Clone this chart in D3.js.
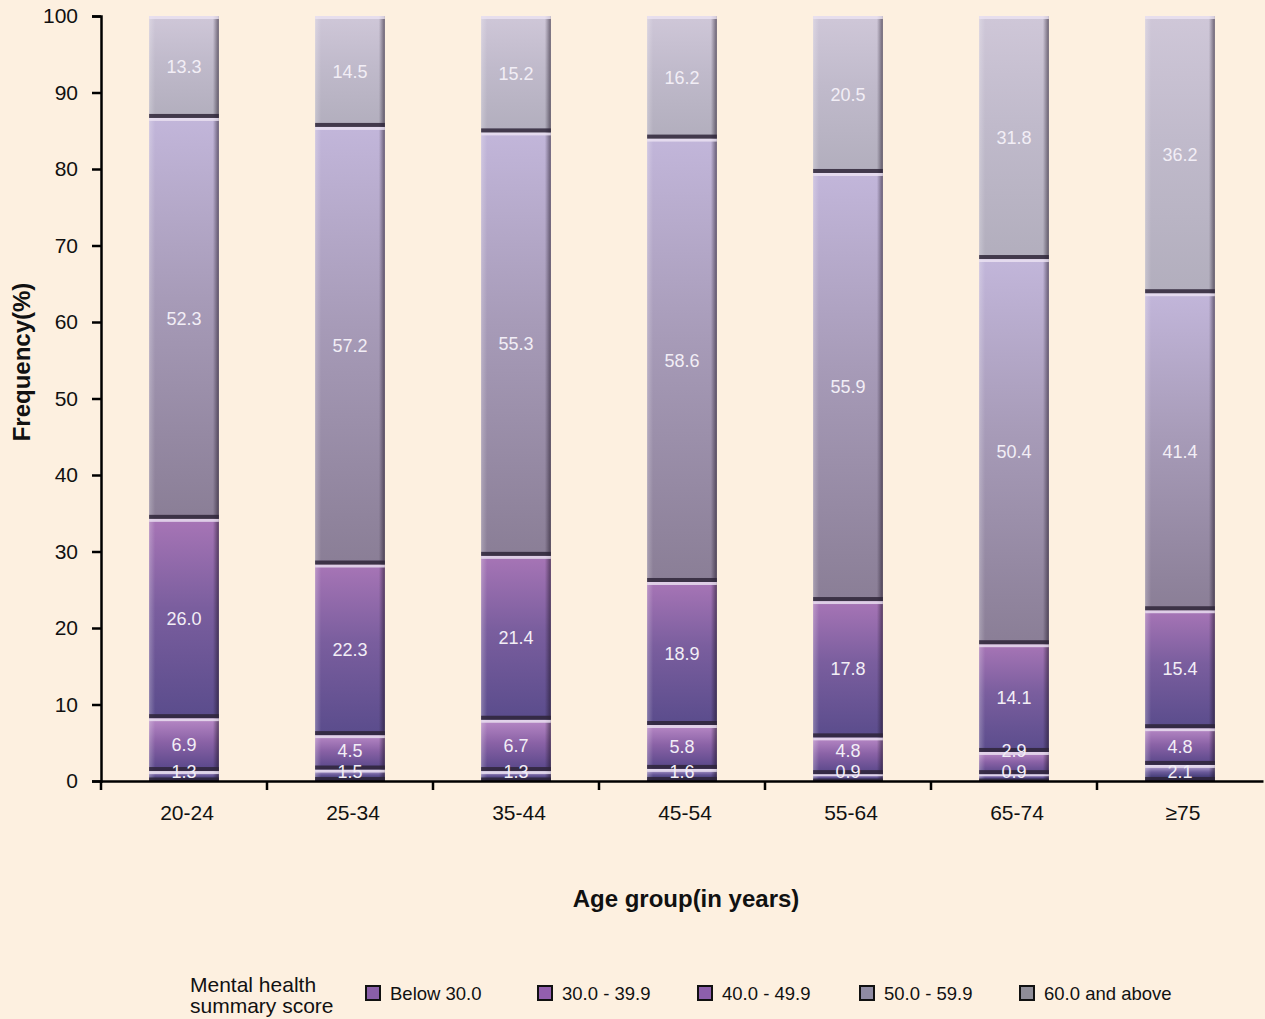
<!DOCTYPE html>
<html><head><meta charset="utf-8">
<script src="https://cdn.jsdelivr.net/npm/d3@7/dist/d3.min.js"></script>
<style>body{margin:0;background:#fdf0e0;}svg{display:block;font-family:"Liberation Sans",Arial,sans-serif;}</style>
</head><body><svg id="c" width="1265" height="1019"></svg>
<script>
const categories = ["20-24","25-34","35-44","45-54","55-64","65-74","≥75"];
const seriesNames = ["Below 30.0","30.0 - 39.9","40.0 - 49.9","50.0 - 59.9","60.0 and above"];
const below30 = [1.3,1.5,1.3,1.6,0.9,0.9,2.1];
const s30to39 = [6.9,4.5,6.7,5.8,4.8,2.9,4.8];
const s40to49 = [26.0,22.3,21.4,18.9,17.8,14.1,15.4];
const s50to59 = [52.3,57.2,55.3,58.6,55.9,50.4,41.4];
const s60plus = [13.3,14.5,15.2,16.2,20.5,31.8,36.2];
const yTicks = [0,10,20,30,40,50,60,70,80,90,100];

const series = [below30,s30to39,s40to49,s50to59,s60plus];
const grads = [
  ["#c9b6e0","#6a5a9a","#26245a"],
  ["#b889c6","#8a62a6","#564688"],
  ["#a775b6","#7a5e9e","#5a4c8c"],
  ["#c2b6da","#a79bb8","#8a7e96"],
  ["#cfc7d8","#c0bacb","#b2aebd"]
];
const swatch = ["#8a5fa8","#935fae","#8d5fac","#8f8ba3","#8f8d98"];

const svg = d3.select("#c");
svg.append("rect").attr("width",1265).attr("height",1019).attr("fill","#fdf0e0");
const defs = svg.append("defs");
grads.forEach((g,i)=>{
  const lg = defs.append("linearGradient").attr("id","g"+i).attr("x1",0).attr("x2",0).attr("y1",0).attr("y2",1);
  lg.append("stop").attr("offset","0%").attr("stop-color",g[0]);
  lg.append("stop").attr("offset","45%").attr("stop-color",g[1]);
  lg.append("stop").attr("offset","100%").attr("stop-color",g[2]);
});
const eg = defs.append("linearGradient").attr("id","edge").attr("x1",0).attr("x2",1).attr("y1",0).attr("y2",0);
eg.append("stop").attr("offset","0%").attr("stop-color","#1a1020").attr("stop-opacity",0);
eg.append("stop").attr("offset","100%").attr("stop-color","#1a1020").attr("stop-opacity",0.55);
const lgE = defs.append("linearGradient").attr("id","ledge").attr("x1",0).attr("x2",1).attr("y1",0).attr("y2",0);
lgE.append("stop").attr("offset","0%").attr("stop-color","#ffffff").attr("stop-opacity",0.25);
lgE.append("stop").attr("offset","100%").attr("stop-color","#ffffff").attr("stop-opacity",0);

const x = d3.scaleBand().domain(categories).range([101,1263]).paddingInner(0.58).paddingOuter(0.29);
const y = d3.scaleLinear().domain([0,100]).range([781,16]);

const stackData = categories.map((c,j)=>{const o={cat:c}; series.forEach((s,i)=>o["s"+i]=s[j]); return o;});
const stack = d3.stack().keys(series.map((s,i)=>"s"+i)).offset(d3.stackOffsetExpand)(stackData);

const bw = x.bandwidth();
stack.forEach((layer,i)=>{
  const g = svg.append("g");
  layer.forEach(d=>{
    const x0 = x(d.data.cat), yt = y(d[1]*100), yb = y(d[0]*100), h = yb-yt;
    g.append("rect").attr("x",x0).attr("y",yt).attr("width",bw).attr("height",h).attr("fill","url(#g"+i+")");
    g.append("rect").attr("x",x0).attr("y",yt).attr("width",6).attr("height",h).attr("fill","url(#ledge)");
    g.append("rect").attr("x",x0+bw-6).attr("y",yt).attr("width",6).attr("height",h).attr("fill","url(#edge)");
    g.append("rect").attr("x",x0).attr("y",yt).attr("width",bw).attr("height",Math.min(3,h*0.3)).attr("fill","#ece4f2").attr("opacity",0.8);
    g.append("rect").attr("x",x0).attr("y",yb-Math.min(4,h*0.35)).attr("width",bw).attr("height",Math.min(4,h*0.35)).attr("fill","#2e2438").attr("opacity",0.85);
  });
});
// value labels (bottom-up, pushed apart to avoid overlap)
categories.forEach((c,j)=>{
  let last = Infinity;
  stack.forEach((layer,i)=>{
    const d = layer[j];
    let cy = (y(d[0]*100)+y(d[1]*100))/2;
    cy = Math.min(cy, y(d[0]*100)-9, last-21);
    last = cy;
    svg.append("text").attr("x",x(c)+bw/2).attr("y",cy).attr("dy","0.35em")
      .attr("text-anchor","middle").attr("font-size",18).attr("fill","#f2eef6").text(series[i][j].toFixed(1));
  });
});

// axes
const yAxis = d3.axisLeft(y).tickValues(yTicks).tickSize(9).tickPadding(14);
const ga = svg.append("g").attr("transform","translate(101,0)").call(yAxis);
ga.select(".domain").attr("stroke","#000").attr("stroke-width",2.5);
ga.selectAll(".tick line").attr("stroke","#000").attr("stroke-width",2.5);
ga.selectAll(".tick text").attr("font-size",21).attr("fill","#111").attr("font-family","Liberation Sans, Arial, sans-serif");

const xAxis = d3.axisBottom(x).tickSize(0).tickPadding(24);
const gx = svg.append("g").attr("transform","translate(0,781)").call(xAxis);
gx.select(".domain").attr("stroke","#000").attr("stroke-width",2.5);
gx.selectAll(".tick text").attr("font-size",21).attr("fill","#111").attr("font-family","Liberation Sans, Arial, sans-serif").attr("dx",3);
// boundary ticks
const bounds = categories.slice(1).map(c=>x(c)-x.step()*x.paddingInner()/2);
bounds.unshift(101);
gx.selectAll(".bt").data(bounds).enter().append("line").attr("x1",d=>d).attr("x2",d=>d).attr("y1",0).attr("y2",9).attr("stroke","#000").attr("stroke-width",2.5);

svg.append("text").attr("x",686).attr("y",907).attr("text-anchor","middle").attr("font-size",24).attr("font-weight","bold").attr("fill","#111").text("Age group(in years)");
svg.append("text").attr("transform","translate(30,362) rotate(-90)").attr("text-anchor","middle").attr("font-size",24).attr("font-weight","bold").attr("fill","#111").text("Frequency(%)");

// legend
svg.append("text").attr("x",190).attr("y",992).attr("font-size",21).attr("fill","#111").text("Mental health");
svg.append("text").attr("x",190).attr("y",1013).attr("font-size",21).attr("fill","#111").text("summary score");
const lx = [366,538,698,860,1020];
seriesNames.forEach((n,i)=>{
  svg.append("rect").attr("x",lx[i]).attr("y",986).attr("width",14).attr("height",14).attr("fill",swatch[i]).attr("stroke","#111").attr("stroke-width",2);
  svg.append("text").attr("x",lx[i]+24).attr("y",1000).attr("font-size",18.5).attr("fill","#111").text(n);
});
</script></body></html>
